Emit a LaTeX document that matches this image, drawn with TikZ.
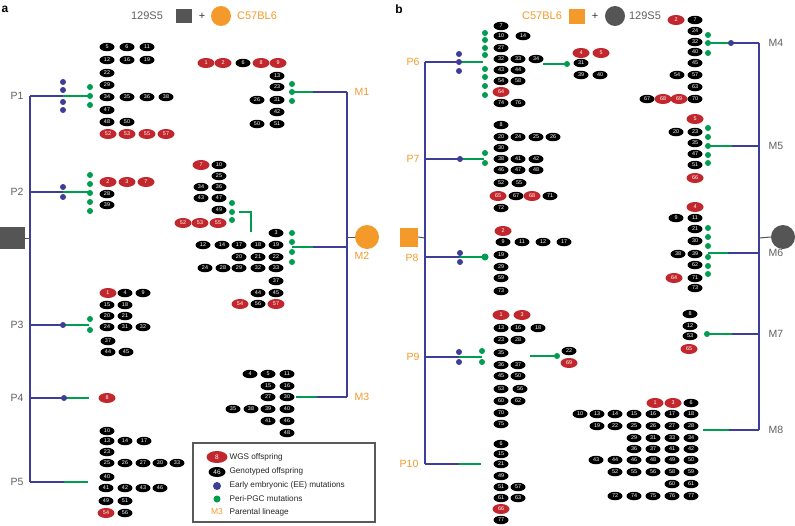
\documentclass[tikz,border=0pt]{standalone}
\usepackage{fontspec}
\setmainfont{Liberation Sans}
\usetikzlibrary{shapes.geometric}
\definecolor{wred}{RGB}{193,39,45}
\definecolor{lblue}{RGB}{62,62,152}
\definecolor{lgreen}{RGB}{0,156,80}
\definecolor{lorange}{RGB}{243,154,43}
\definecolor{tgray}{RGB}{96,96,96}
\definecolor{sgray}{RGB}{85,85,85}
\tikzset{
 ob/.style={ellipse, fill=black, text=white, inner sep=0pt, minimum width=15pt, minimum height=8.5pt, font=\fontsize{5.4}{5.4}\selectfont},
 orr/.style={ob, fill=wred, minimum width=17pt, minimum height=10pt},
 bl/.style={draw=lblue, line width=1.3pt},
 gr/.style={draw=lgreen, line width=1.3pt},
 bdot/.style={circle, fill=lblue, inner sep=0pt, minimum size=6pt},
 gdot/.style={circle, fill=lgreen, inner sep=0pt, minimum size=6pt},
 glab/.style={text=tgray, font=\fontsize{10.5}{12}\selectfont},
 olab/.style={text=lorange, font=\fontsize{10.5}{12}\selectfont},
 hdr/.style={font=\fontsize{11}{13}\selectfont},
 legt/.style={anchor=west, text=black!85, font=\fontsize{8.2}{9}\selectfont},
 pletter/.style={font=\bfseries\fontsize{12}{14}\selectfont},
 stub/.style={draw=sgray, line width=1pt},
}
\newcommand\kr[2]{\foreach \x/\t in {#2}{\node[ob] (k\t-\x-#1) at (\x,#1) {\t};}}
\newcommand\rr[2]{\foreach \x/\t in {#2}{\node[orr] (r\t-\x-#1) at (\x,#1) {\t};}}
\newcommand\bdots[2]{\foreach \y in {#2}{\node[bdot] (bd#1-\y) at (#1,\y) {};}}
\newcommand\gdots[2]{\foreach \y in {#2}{\node[gdot] (gd#1-\y) at (#1,\y) {};}}
\newcommand\branch[5]{\coordinate (#1a) at (#2,#5); \coordinate (#1b) at (#3,#5); \coordinate (#1c) at (#4,#5);
 \draw[bl] (#1a) -- (#1b); \draw[gr] (#1b) -- (#1c);}
\begin{document}
\begin{tikzpicture}[x=1pt,y=-1pt]
\useasboundingbox (0,0) rectangle (795,525);
% ================= panel a =================
\node[pletter] (la) at (5,9) {a};
\node[hdr, text=tgray] (h129a) at (147,16) {129S5};
\node[fill=sgray, minimum width=16pt, minimum height=14pt, inner sep=0pt] (hsqa) at (184,16) {};
\node[hdr, text=black!80] (hplusa) at (202,16) {+};
\node[circle, fill=lorange, minimum size=20pt, inner sep=0pt] (hcira) at (221,16) {};
\node[hdr, text=lorange] (hc57a) at (257,16) {C57BL6};
% lineage lines P
\branch{P1}{30}{63}{90}{96}
\branch{P2}{30}{63}{90}{192}
\branch{P3}{30}{63}{89}{325}
\branch{P4}{30}{64}{89}{398}
\branch{P5}{30}{64}{88}{482}
\draw[bl] (P1a) -- (P5a);
\node[fill=sgray, minimum width=25pt, minimum height=22pt, inner sep=0pt] (sqa) at (12.5,238) {};
\coordinate (ja) at (30,238);
\draw[stub] (sqa.east) -- (ja);
\node[glab] (P1) at (17,96) {P1};
\node[glab] (P2) at (17,192) {P2};
\node[glab] (P3) at (17,325) {P3};
\node[glab] (P4) at (17,398) {P4};
\node[glab] (P5) at (17,482) {P5};
% lineage lines M
\branch{M1}{347}{313}{292}{92}
\branch{M2}{347}{313}{292}{247}
\branch{M3}{347}{317}{296}{397}
\draw[bl] (M1a) -- (M3a);
\node[circle, fill=lorange, minimum size=24pt, inner sep=0pt] (cira) at (367,237) {};
\coordinate (jm) at (347,237);
\draw[stub] (jm) -- (cira.west);
\node[olab, anchor=west] (M1) at (351,92) {M1};
\node[olab, anchor=west] (M2) at (351,256) {M2};
\node[olab, anchor=west] (M3) at (351,397) {M3};
\coordinate (e1) at (239,212); \coordinate (e2) at (251,212); \coordinate (e3) at (251,232);
\draw[gr] (e1) -- (e2) -- (e3);
% dots a
\bdots{63}{82,90,102,110}
\gdots{90}{87,96,105}
\bdots{63}{187,197}
\gdots{90}{175,184,193,202,211}
\bdots{63}{325}
\gdots{90}{319,330}
\bdots{64}{398}
\gdots{292}{84,92,101}
\gdots{292}{233,242,252,262}
\gdots{232}{203,212,220}
% P1
\kr{47}{107/5,127/6,147/11}
\kr{60}{107/12,127/16,147/19}
\kr{73}{107/22}
\kr{85}{107/29}
\kr{97}{107/34,127/35,147/36,166/38}
\kr{110}{107/47}
\kr{122}{107/48,127/50}
\rr{134}{108/52,127/53,147/55,166/57}
% P2
\rr{182}{108/2,127/3,146/7}
\kr{194}{107/28}
\kr{205}{107/39}
% P3
\rr{293}{108/1}
\kr{293}{125/4,143/9}
\kr{305}{107/15,125/18}
\kr{316}{107/20,125/21}
\kr{327}{107/24,125/31,143/32}
\kr{341}{108/37}
\kr{352}{108/44,126/45}
% P4
\rr{398}{107/8}
% P5
\kr{431}{107/10}
\kr{441}{107/13,125/14,144/17}
\kr{452}{107/23}
\kr{463}{107/25,125/26,143/27,160/30,177/33}
\kr{477}{107/40}
\kr{488}{106/41,125/42,143/43,160/46}
\kr{501}{106/49,125/51}
\rr{513}{106/54}
\kr{513}{125/56}
% M1
\rr{63}{206/1,223/2}
\kr{63}{243/6}
\rr{63}{261/8,278/9}
\kr{76}{277/13}
\kr{87}{277/23}
\kr{100}{257/26,277/31}
\kr{112}{277/42}
\kr{124}{257/50,277/51}
% M2 upper
\rr{165}{201/7}
\kr{165}{219/10}
\kr{176}{219/25}
\kr{187}{201/34,219/36}
\kr{198}{201/43,219/47}
\kr{210}{219/49}
\rr{223}{183/52,200/53,218/55}
% M2 main
\kr{233}{276/3}
\kr{245}{203/12,222/14,239/17,258/18,276/19}
\kr{257}{239/20,258/21,276/22}
\kr{268}{205/24,223/28,239/29,258/32,276/33}
\kr{281}{276/37}
\kr{293}{258/44,276/45}
\rr{304}{240/54}
\kr{304}{258/56}
\rr{304}{276/57}
% M3
\kr{374}{250/4,268/5,287/11}
\kr{386}{268/15,287/16}
\kr{397}{268/27,287/30}
\kr{409}{233/35,251/38,268/39,287/40}
\kr{421}{268/41,287/46}
\kr{433}{287/48}
% legend
\node[draw=black!65, line width=1.5pt, minimum width=182pt, minimum height=79pt, inner sep=0pt] (leg) at (284,482.5) {};
\node[orr, minimum width=21pt, minimum height=12pt, font=\fontsize{6.5}{7}\selectfont] (lg1) at (217,457) {8};
\node[ob, minimum width=17pt, minimum height=10pt, font=\fontsize{6.5}{7}\selectfont] (lg2) at (217,472) {46};
\node[bdot, minimum size=8pt] (lg3) at (217,486) {};
\node[gdot, minimum size=7pt] (lg4) at (217,499) {};
\node[text=lorange, font=\fontsize{8.5}{9}\selectfont] (lg5) at (217,512) {M3};
\node[legt] (lt1) at (226,457) {WGS offspring};
\node[legt] (lt2) at (226,471) {Genotyped offspring};
\node[legt] (lt3) at (226,485) {Early embryonic (EE) mutations};
\node[legt] (lt4) at (226,498.5) {Peri-PGC mutations};
\node[legt] (lt5) at (226,512) {Parental lineage};
% ================= panel b =================
\node[pletter] (lb) at (399,9) {b};
\node[hdr, text=lorange] (hc57b) at (542,16) {C57BL6};
\node[fill=lorange, minimum width=16pt, minimum height=15pt, inner sep=0pt] (hsqb) at (577,16) {};
\node[hdr, text=black!80] (hplusb) at (595,16) {+};
\node[circle, fill=sgray, minimum size=20pt, inner sep=0pt] (hcirb) at (615,16) {};
\node[hdr, text=tgray] (h129b) at (645,16) {129S5};
% P lines
\branch{P6}{425}{459}{483}{62}
\branch{P7}{425}{460}{484}{159}
\branch{P8}{425}{460}{484}{257}
\branch{P9}{425}{459}{482}{357}
\branch{P10}{425}{459}{481}{464}
\draw[bl] (P6a) -- (P10a);
\node[fill=lorange, minimum width=18pt, minimum height=19pt, inner sep=0pt] (sqb) at (409,237) {};
\coordinate (jb) at (425,238);
\draw[stub] (sqb.east) -- (jb);
\node[olab] (P6) at (413,62) {P6};
\node[olab] (P7) at (413,159) {P7};
\node[olab] (P8) at (412,258) {P8};
\node[olab] (P9) at (413,357) {P9};
\node[olab] (P10) at (409,464) {P10};
% sub-branches
\coordinate (s6a) at (543,64); \coordinate (s6b) at (567,64);
\draw[gr] (s6a) -- (s6b);
\coordinate (s9a) at (530,356); \coordinate (s9b) at (557,356);
\draw[gr] (s9a) -- (s9b);
% M lines
\branch{M4}{759}{731}{708}{43}
\branch{M5}{759}{732}{708}{146}
\branch{M6}{759}{728}{708}{253}
\branch{M7}{759}{732}{707}{334}
\branch{M8}{759}{729}{703}{430}
\draw[bl] (M4a) -- (M8a);
\node[circle, fill=sgray, minimum size=24pt, inner sep=0pt] (cirb) at (783,237) {};
\coordinate (jmb) at (759,238);
\draw[stub] (jmb) -- (cirb.west);
\node[glab, anchor=west] (M4) at (765,43) {M4};
\node[glab, anchor=west] (M5) at (765,146) {M5};
\node[glab, anchor=west] (M6) at (765,253) {M6};
\node[glab, anchor=west] (M7) at (765,334) {M7};
\node[glab, anchor=west] (M8) at (765,430) {M8};
% dots b
\bdots{459}{54,62,71}
\gdots{485}{33,40,48,55,69,77,86,95}
\gdots{567}{64}
\bdots{460}{159}
\gdots{485}{153,163}
\bdots{460}{253,262}
\node[gdot, minimum size=7pt] (gP8) at (485,257) {};
\bdots{459}{352,362}
\gdots{482}{351,362}
\gdots{557}{356}
\bdots{731}{43}
\gdots{708}{35,43,53}
\gdots{708}{128,137,146,155,163}
\gdots{708}{228,237,246,257,266,274}
\gdots{707}{334}
% P6
\kr{26}{501/7}
\kr{36}{501/10,523/14}
\kr{48}{501/27}
\kr{59}{501/32,518/33,536/34}
\kr{70}{501/43,518/44}
\kr{81}{501/54,518/58}
\rr{92}{501/64}
\kr{103}{501/74,518/76}
\rr{53}{581/4,601/5}
\kr{63}{581/31}
\kr{75}{581/39,600/40}
% P7
\kr{125}{501/8}
\kr{137}{501/20,518/24,536/25,553/26}
\kr{148}{501/30}
\kr{159}{501/38,518/41,536/42}
\kr{170}{501/46,518/47,536/48}
\kr{183}{501/52,519/55}
\rr{196}{498/65}
\kr{196}{516/67}
\rr{196}{532/68}
\kr{196}{550/71}
\kr{208}{501/72}
% P8
\rr{231}{503/2}
\kr{242}{503/9,522/11,543/12,564/17}
\kr{255}{501/19}
\kr{267}{501/29}
\kr{278}{501/59}
\kr{291}{501/73}
% P9
\rr{315}{501/1,522/3}
\kr{328}{501/13,518/16,538/18}
\kr{340}{501/23,518/28}
\kr{353}{501/35}
\kr{365}{501/36,518/37}
\kr{376}{501/45,518/50}
\kr{389}{501/53,520/56}
\kr{401}{501/60,518/62}
\kr{413}{501/70}
\kr{424}{501/75}
\kr{351}{569/22}
\rr{363}{569/69}
% P10
\kr{444}{501/6}
\kr{454}{501/15}
\kr{464}{501/21}
\kr{476}{501/49}
\kr{487}{501/51,518/57}
\kr{498}{501/61,518/63}
\rr{509}{501/66}
\kr{520}{501/77}
% M4
\rr{20}{676/2}
\kr{20}{695/7}
\kr{31}{695/24}
\kr{42}{695/32}
\kr{52}{695/40}
\kr{63}{695/45}
\kr{75}{677/54,695/57}
\kr{87}{695/63}
\kr{99}{647/67}
\rr{99}{663/68,679/69}
\kr{99}{695/70}
% M5
\rr{119}{695/5}
\kr{132}{676/20,695/23}
\kr{143}{695/35}
\kr{154}{695/47}
\kr{165}{695/51}
\rr{178}{695/66}
% M6
\rr{207}{695/4}
\kr{218}{676/9,695/11}
\kr{229}{695/21}
\kr{241}{695/30}
\kr{254}{678/38,695/39}
\kr{265}{695/62}
\rr{278}{674/64}
\kr{278}{695/71}
\kr{288}{695/73}
% M7
\kr{314}{690/8}
\kr{326}{690/12}
\kr{336}{690/53}
\rr{349}{689/65}
% M8
\rr{403}{655/1,673/3}
\kr{403}{691/6}
\kr{414}{580/10,597/13,615/14,634/15,653/16,672/17,691/18}
\kr{426}{597/19,615/22,634/25,653/26,672/27,691/28}
\kr{438}{634/29,653/31,672/33,691/34}
\kr{449}{634/36,653/37,672/41,691/42}
\kr{460}{596/43,615/44,634/46,653/48,672/49,691/50}
\kr{472}{615/52,634/55,653/56,672/58,691/59}
\kr{484}{672/60,691/61}
\kr{496}{615/72,634/74,653/75,672/76,691/77}
\end{tikzpicture}
\end{document}
